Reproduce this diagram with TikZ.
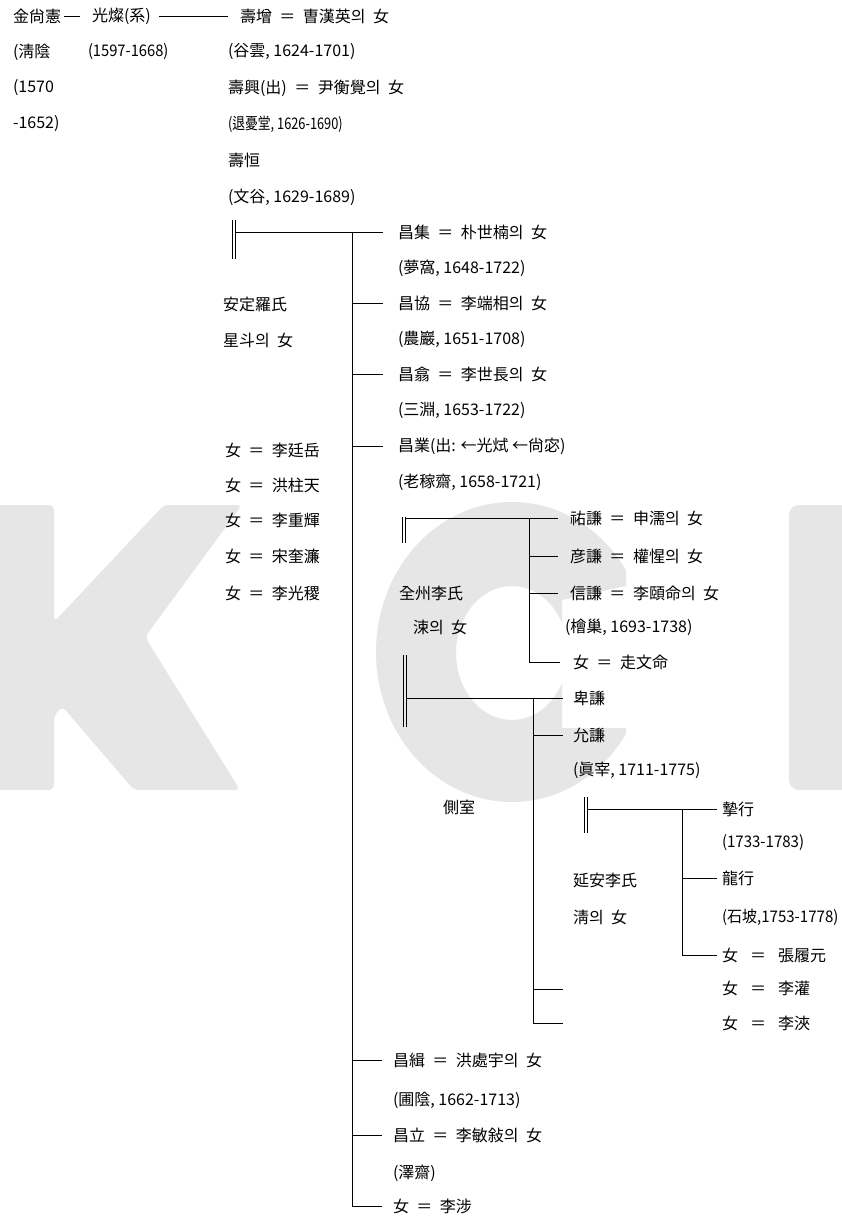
\documentclass[tikz,border=0pt]{standalone}
\usepackage{fontspec}
\usepackage{graphicx}
\setmainfont{Noto Sans CJK KR}
\definecolor{wm}{RGB}{230,230,230}
\newcommand\spnormal{\spaceskip 7.5pt\relax}
\newcommand\spwide{\spaceskip 12pt\relax}
\newcommand\narw[2]{\scalebox{#1}[1]{#2}}
\begin{document}
\begin{tikzpicture}[x=1pt,y=-1pt,
  every node/.style={inner sep=0pt, outer sep=0pt, anchor=west, font=\fontsize{16}{18}\selectfont},
  rel/.style={font=\fontsize{16}{18}\selectfont\spnormal},
  wide/.style={font=\fontsize{16}{18}\selectfont\spwide},
  ln/.style={line width=0.8pt, black}]
\fill[white] (0,0) rectangle (842,1222);
\useasboundingbox (0,0) rectangle (842,1222);
% watermark
\fill[wm, rounded corners=5] (-10,505) -- (54,505) -- (54,622) -- (164,505) -- (242,505) -- (145,637) -- (240,790) -- (134,790) -- (62,706) -- (54,716) -- (54,790) -- (-10,790) -- cycle;
\fill[wm, rounded corners=10] (789,505) rectangle (880,790);
\begin{scope}
\clip (360,490) -- (626,490) -- (626,586) -- (562,600) -- (562,728) -- (626,728) -- (626,812) -- (360,812) -- cycle;
\fill[wm, even odd rule] (512,652) ellipse [x radius=136pt, y radius=150pt] (512,653) ellipse [x radius=56pt, y radius=67pt];
\end{scope}
% generation 1
\node (kim) at (13,16) {金尙憲};
\node (gwang) at (92,16) {光燦(系)};
\node[rel] (sj) at (240,16) {壽增 ＝ 曺漢英의 女};
\draw[ln] ([xshift=3]kim.east) -- ([xshift=-12]gwang.west);
\draw[ln] ([xshift=8]gwang.east) -- ([xshift=-12]sj.west);
\node (hoeum) at (13,52) {(淸陰};
\node (b1570) at (13,88) {(1570};
\node (d1652) at (13,124) {-1652)};
\node (kdates) at (88,52) {\narw{0.92}{(1597-1668)}};
\node (sjinfo) at (228,52) {(谷雲, 1624-1701)};
\node[rel] (sh) at (228,88) {壽興(出) ＝ 尹衡覺의 女};
\node (shinfo) at (228,124) {\narw{0.8}{(退憂堂, 1626-1690)}};
\node (shang) at (228,160) {壽恒};
\node (shanginfo) at (228,197) {(文谷, 1629-1689)};
% generation 2
\node (wifeAa) at (223,304) {安定羅氏};
\node[rel] (wifeAb) at (223,340) {星斗의 女};
\node[rel] (dA) at (225,450) {女 ＝ 李廷岳};
\node[rel] (dB) at (225,485) {女 ＝ 洪柱天};
\node[rel] (dC) at (225,520) {女 ＝ 李重輝};
\node[rel] (dD) at (225,556) {女 ＝ 宋奎濂};
\node[rel] (dE) at (225,593) {女 ＝ 李光稷};
\node[rel] (cj) at (398,232) {昌集 ＝ 朴世楠의 女};
\node (cjinfo) at (398,268) {(夢窩, 1648-1722)};
\node[rel] (ch) at (398,303) {昌協 ＝ 李端相의 女};
\node (chinfo) at (398,339) {(農巖, 1651-1708)};
\node[rel] (chp) at (398,374) {昌翕 ＝ 李世長의 女};
\node (chpinfo) at (398,410) {(三淵, 1653-1722)};
\node (ce) at (398,446) {昌業(出: ←光烒 ←尙宓)};
\node (ceinfo) at (398,482) {(老稼齋, 1658-1721)};
\node[rel] (cz) at (393,1060) {昌緝 ＝ 洪處宇의 女};
\node (czinfo) at (393,1100) {(圃陰, 1662-1713)};
\node[rel] (cr) at (393,1135) {昌立 ＝ 李敏敍의 女};
\node (crinfo) at (393,1173) {(澤齋)};
\node[rel] (cd) at (393,1206) {女 ＝ 李涉};
\coordinate (m2) at (352,232);
\draw[ln] (232,220) -- (232,259);
\draw[ln] (235.5,220) -- (235.5,259);
\draw[ln] (235.5,232) -- ([xshift=-15]cj.west);
\draw[ln] (m2) |- ([xshift=-11]cd.west);
\foreach \n in {ch,chp,ce} \draw[ln] (m2 |- \n.west) -- ([xshift=-15]\n.west);
\foreach \n in {cz,cr} \draw[ln] (m2 |- \n.west) -- ([xshift=-11]\n.west);
% generation 3 (wife 全州李氏)
\node (wifeBa) at (399,593) {全州李氏};
\node[rel] (wifeBb) at (413,627) {涑의 女};
\node[rel] (ug) at (570,518) {祐謙 ＝ 申濡의 女};
\node[rel] (eg) at (570,556) {彦謙 ＝ 權惺의 女};
\node[rel] (sg) at (570,593) {信謙 ＝ 李頤命의 女};
\node (sginfo) at (565,627) {(檜巢, 1693-1738)};
\node[rel] (gd) at (573,662) {女 ＝ 走文命};
\coordinate (m3) at (529,518);
\draw[ln] (402,517) -- (402,543);
\draw[ln] (405.5,517) -- (405.5,543);
\draw[ln] (405.5,518) -- ([xshift=-12]ug.west);
\draw[ln] (m3) |- ([xshift=-13]gd.west);
\foreach \n in {eg,sg} \draw[ln] (m3 |- \n.west) -- ([xshift=-12]\n.west);
% generation 3 (側室)
\node (conc) at (443,807) {側室};
\node (bg) at (573,698) {卑謙};
\node (yg) at (573,735) {允謙};
\node (yginfo) at (573,770) {(眞宰, 1711-1775)};
\coordinate (m4) at (533,698);
\coordinate (eA) at (563,989);
\coordinate (eB) at (563,1023);
\draw[ln] (403,655) -- (403,727);
\draw[ln] (406.5,655) -- (406.5,727);
\draw[ln] (406.5,698) -- ([xshift=-10]bg.west);
\draw[ln] (m4 |- yg.west) -- ([xshift=-10]yg.west);
\draw[ln] (m4) |- (eB);
\draw[ln] (m4 |- eA) -- (eA);
% generation 4
\node (wifeCa) at (573,880) {延安李氏};
\node[rel] (wifeCb) at (573,917) {淸의 女};
\node (jh) at (722,809) {摯行};
\node (jhinfo) at (722,843) {\narw{0.94}{(1733-1783)}};
\node (rh) at (722,878) {龍行};
\node (rhinfo) at (722,917) {\narw{0.94}{(石坡,1753-1778)}};
\node[wide] (ydA) at (722,955) {女 ＝ 張履元};
\node[wide] (ydB) at (722,988) {女 ＝ 李灌};
\node[wide] (ydC) at (722,1023) {女 ＝ 李浹};
\coordinate (m5) at (682,809);
\draw[ln] (584,797) -- (584,833);
\draw[ln] (587.5,797) -- (587.5,833);
\draw[ln] (587.5,809) -- ([xshift=-5]jh.west);
\draw[ln] (m5) |- ([xshift=-5]ydA.west);
\draw[ln] (m5 |- rh.west) -- ([xshift=-5]rh.west);
\end{tikzpicture}
\end{document}
